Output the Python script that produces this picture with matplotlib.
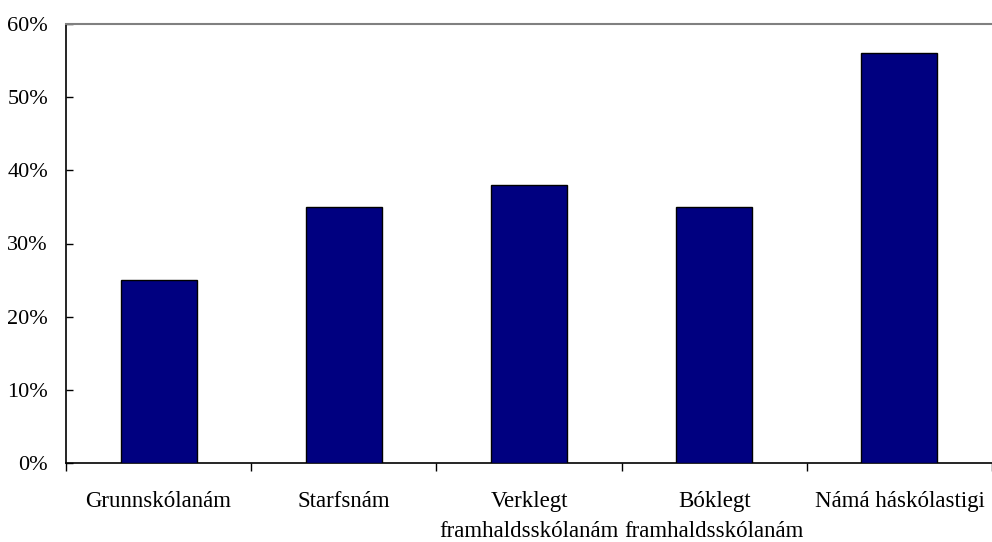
import matplotlib
matplotlib.use("Agg")
import matplotlib.pyplot as plt
import numpy as np

categories = ["Grunnskólanám", "Starfsnám", "Verklegt\nframhaldsskólanám",
              "Bóklegt\nframhaldsskólanám", "Námá háskólastigi"]
values = [25, 35, 38, 35, 56]
yticks = [0, 10, 20, 30, 40, 50, 60]
ytick_labels = ["0%", "10%", "20%", "30%", "40%", "50%", "60%"]

plt.rcParams['font.family'] = ['Liberation Serif', 'DejaVu Serif']

fig = plt.figure(figsize=(9.92, 5.42), dpi=100)
ax = fig.add_axes([66/992, 1-463/542, 926/992, (463-24)/542])

x = np.arange(len(categories))
ax.bar(x, values, width=0.41, color="#000080", edgecolor="black", linewidth=1.0, zorder=3)

ax.set_xlim(-0.5, len(categories)-0.5)
ax.set_ylim(0, 60)
ax.set_yticks(yticks)
ax.set_yticklabels(ytick_labels, fontsize=16)
ax.tick_params(axis='y', direction='in', length=5, width=1, pad=13, colors='black')

# boundaries as major ticks, labels at minor ticks
ax.set_xticks(np.arange(-0.5, len(categories)-0.5+0.01, 1.0))
ax.set_xticklabels([])
ax.tick_params(axis='x', which='major', direction='out', length=6, width=1)
ax.set_xticks(x, minor=True)
ax.set_xticklabels(categories, minor=True, fontsize=16.5, linespacing=1.55)
ax.tick_params(axis='x', which='minor', length=0, pad=20)

ax.spines['right'].set_visible(False)
ax.spines['top'].set_color('#808080')
ax.spines['top'].set_linewidth(1.5)
ax.spines['left'].set_color('black')
ax.spines['bottom'].set_color('black')
ax.spines['left'].set_linewidth(1.2)
ax.spines['bottom'].set_linewidth(1.2)

fig.savefig("out.png", dpi=100)
